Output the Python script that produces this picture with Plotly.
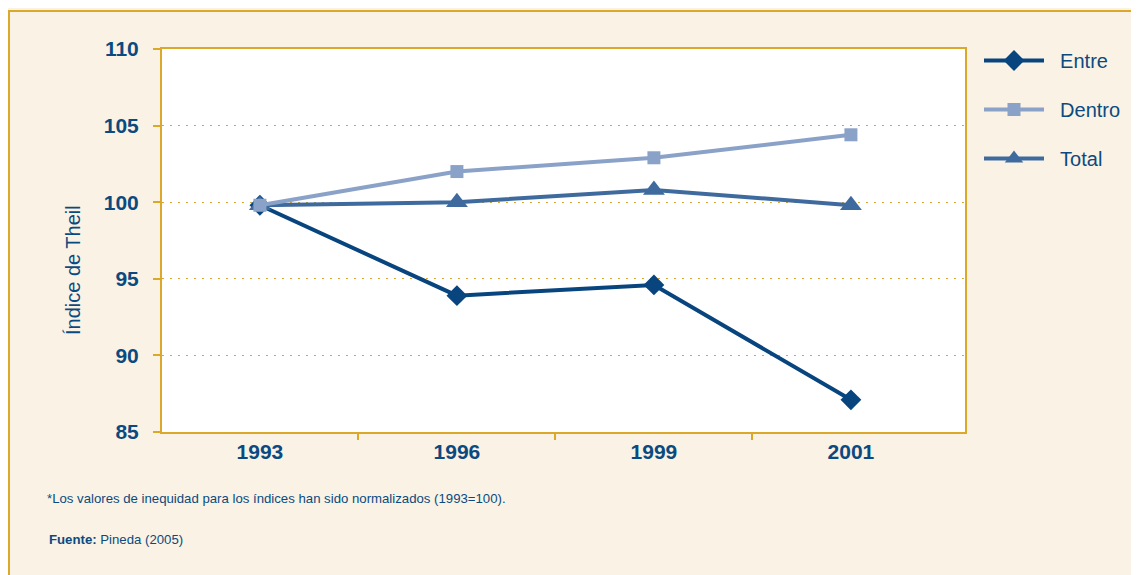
import plotly.graph_objects as go

years = ["1993", "1996", "1999", "2001"]
entre = [99.8, 93.9, 94.6, 87.1]
dentro = [99.8, 102.0, 102.9, 104.4]
total = [99.8, 100.0, 100.8, 99.8]
y_ticks = [85, 90, 95, 100, 105, 110]
series_names = ["Entre", "Dentro", "Total"]

NAVY = "#0b4a80"
GOLD = "#dca82a"
BG = "#faf2e4"
FONT = "Liberation Sans, Arial"

# page offset of 8px (default body margin)
OFF = 8
W, H = 1139 - OFF, 575 - OFF
L, R, T, B = 162 - OFF, 965 - OFF, 49 - OFF, 432 - OFF
pw, ph = R - L, B - T

xi = list(range(len(years)))
NB = "\u00a0\u00a0"

fig = go.Figure()
fig.add_trace(go.Scatter(x=xi, y=entre, name=NB + series_names[0], mode="lines+markers",
                         line=dict(color="#08457e", width=4),
                         marker=dict(symbol="diamond", size=16, color="#08457e"),
                         legendgroup="a", legendrank=1))
fig.add_trace(go.Scatter(x=xi, y=total, name=NB + series_names[2], mode="lines+markers",
                         line=dict(color="#3e6a9e", width=4),
                         marker=dict(symbol="triangle-up", size=19, color="#3e6a9e"),
                         legendgroup="c", legendrank=3))
fig.add_trace(go.Scatter(x=xi, y=dentro, name=NB + series_names[1], mode="lines+markers",
                         line=dict(color="#8aa2c8", width=4),
                         marker=dict(symbol="square", size=13, color="#8aa2c8"),
                         legendgroup="b", legendrank=2))

def px_x(p):
    return (p - OFF - L) / pw

def px_y(p):
    return 1 - (p - OFF - T) / ph

fig.add_shape(type="rect", xref="paper", yref="paper",
              x0=px_x(9), x1=px_x(1250), y0=px_y(700), y1=px_y(11),
              line=dict(color=GOLD, width=2), fillcolor="rgba(0,0,0,0)", layer="below")

fig.add_annotation(xref="paper", yref="paper", x=px_x(45), y=px_y(498),
                   xanchor="left", yanchor="middle", showarrow=False,
                   text="*Los valores de inequidad para los índices han sido normalizados (1993=100).",
                   font=dict(family=FONT, size=13.2, color=NAVY))
fig.add_annotation(xref="paper", yref="paper", x=px_x(47), y=px_y(539),
                   xanchor="left", yanchor="middle", showarrow=False,
                   text="<b>Fuente:</b> Pineda (2005)",
                   font=dict(family=FONT, size=13.2, color=NAVY))
fig.add_annotation(xref="paper", yref="paper", x=px_x(73), y=px_y(270),
                   xanchor="center", yanchor="middle", showarrow=False, textangle=-90,
                   text="Índice de Theil",
                   font=dict(family=FONT, size=20, color=NAVY))

fig.update_layout(
    width=W, height=H,
    margin=dict(l=L, r=W - R, t=T, b=H - B),
    paper_bgcolor=BG, plot_bgcolor="white",
    font=dict(family=FONT, color=NAVY),
    showlegend=True,
    legend=dict(x=px_x(979), y=px_y(41), xanchor="left", yanchor="top",
                bgcolor="rgba(0,0,0,0)", font=dict(family=FONT, size=20, color=NAVY),
                tracegroupgap=20, itemwidth=60),
    xaxis=dict(range=[-0.497, 3.579], tickmode="array", tickvals=xi, ticktext=years,
               ticks="", showgrid=False, zeroline=False,
               showline=True, linecolor=GOLD, linewidth=2, mirror=True,
               tickfont=dict(family=FONT, size=21, color=NAVY, weight="bold"),
               minor=dict(tickmode="array", tickvals=[0.5, 1.5, 2.5], ticks="outside",
                          ticklen=6, tickcolor=GOLD, tickwidth=1.5, showgrid=False)),
    yaxis=dict(range=[85, 110], tickmode="array", tickvals=y_ticks,
               ticks="outside", ticklen=7, tickcolor=GOLD, tickwidth=1.5,
               ticklabelstandoff=10,
               showgrid=True, gridcolor=GOLD, griddash="2px,6px", gridwidth=1.2,
               zeroline=False, showline=True, linecolor=GOLD, linewidth=2, mirror=True,
               tickfont=dict(family=FONT, size=21, color=NAVY, weight="bold")),
)

fig.write_html("out.html")
